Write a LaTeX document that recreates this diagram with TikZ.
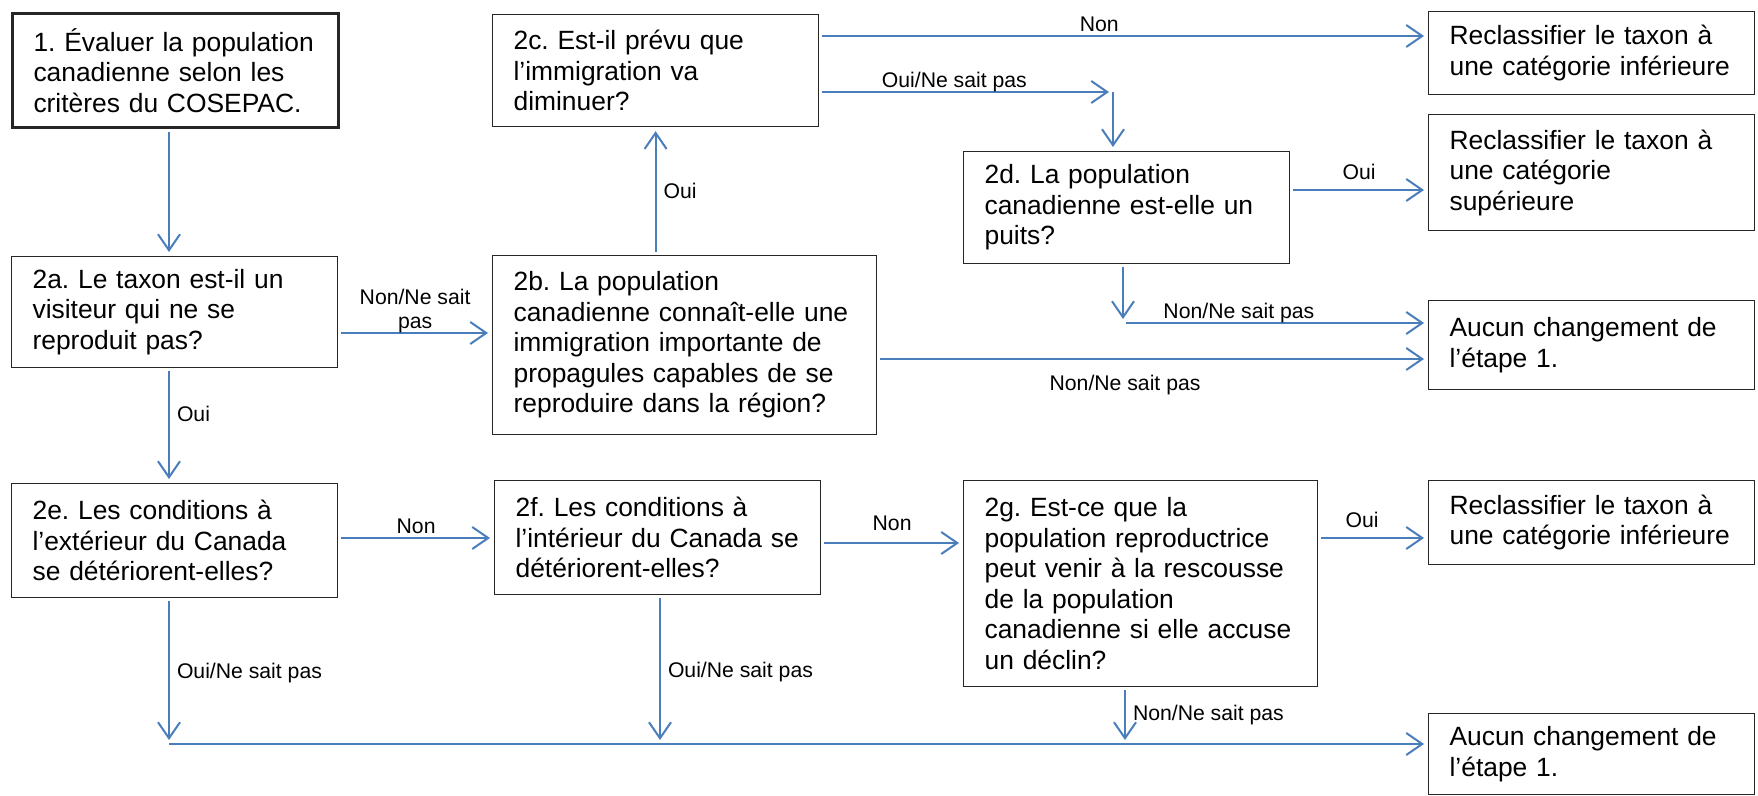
\documentclass[tikz,border=0pt]{standalone}
\usepackage{fontspec}
\setmainfont{Liberation Sans}
\usepackage{tikz}
\usetikzlibrary{positioning,arrows.meta}
\definecolor{flowblue}{RGB}{74,126,187}
\frenchspacing
\hyphenpenalty=10000
\exhyphenpenalty=10000
\tikzset{
qbox/.style = {draw=black!85, line width=0.6pt, anchor=north west, align=left,
  inner xsep=10.5pt, inner ysep=0pt, font=\fontsize{13.2pt}{15.25pt}\selectfont, text width=#1},
qbox/.default = 142pt, % 326px wide boxes
flow/.style = {draw=flowblue, line width=1pt, shorten <=1.5pt, shorten >=2pt,
  -{Straight Barb[length=8pt,width=11pt]}},
lbl/.style = {font=\fontsize{10.6pt}{12.2pt}\selectfont, inner sep=1.5pt, text depth=0pt}
}

\begin{document}
\begin{tikzpicture}[x=0.5pt,y=-0.5pt]
  \useasboundingbox (0,0) rectangle (1758,796);
  % questions
  \node [qbox, line width=1.5pt, minimum height=57pt] (n1) at (11,12)
    {1. Évaluer la population\\canadienne selon les\\critères du COSEPAC.};
  \node [qbox, minimum height=55.5pt] (n2a) at (11,256)
    {2a. Le taxon est-il un\\visiteur qui ne se\\reproduit pas?};
  \node [qbox=171pt, minimum height=89.5pt] (n2b) at (492,255)
    {2b. La population\\canadienne connaît-elle une\\immigration importante de\\propagules capables de se\\reproduire dans la région?};
  \node [qbox, minimum height=56pt] (n2c) at (492,14)
    {2c. Est-il prévu que\\l’immigration va\\diminuer?};
  \node [qbox, minimum height=56pt] (n2d) at (963,151)
    {2d. La population\\canadienne est-elle un\\puits?};
  \node [qbox, minimum height=57pt] (n2e) at (11,483)
    {2e. Les conditions à\\l’extérieur du Canada\\se détériorent-elles?};
  \node [qbox, minimum height=57pt] (n2f) at (494,480)
    {2f. Les conditions à\\l’intérieur du Canada se\\détériorent-elles?};
  \node [qbox=156pt, minimum height=103pt] (n2g) at (963,480)
    {2g. Est-ce que la\\population reproductrice\\peut venir à la rescousse\\de la population\\canadienne si elle accuse\\un déclin?};
  % outcomes
  \node [qbox, minimum height=41.5pt] (rinf1) at (1428,11)
    {Reclassifier le taxon à\\une catégorie inférieure};
  \node [qbox, minimum height=58pt] (rsup) at (1428,114)
    {Reclassifier le taxon à\\une catégorie\\supérieure};
  \node [qbox, minimum height=44.5pt] (aucun1) at (1428,300)
    {Aucun changement de\\l’étape 1.};
  \node [qbox, minimum height=42pt] (rinf2) at (1428,480)
    {Reclassifier le taxon à\\une catégorie inférieure};
  \node [qbox, minimum height=40.5pt] (aucun2) at (1428,713)
    {Aucun changement de\\l’étape 1.};

  \coordinate (c1) at (169,0);
  \coordinate (y36) at (0,36);
  \coordinate (y190) at (0,190);
  \coordinate (y333) at (0,333);
  \coordinate (y359) at (0,359);
  \coordinate (y538) at (0,538);
  \coordinate (y543) at (0,543);
  \coordinate (j1) at (1113,92);
  \coordinate (j2) at (1123,323);
  \coordinate (b1) at (169,744);
  \coordinate (b2) at (660,744);
  \coordinate (b3) at (1125,744);

  \draw[flow] (n1.south -| c1) -- (n2a.north -| c1);
  \draw[flow] (n2a.east |- y333) -- node[lbl, above, align=center] {Non/Ne sait\\pas} (n2b.west |- y333);
  \draw[flow] (n2a.south -| c1) -- node[lbl, right, pos=0.4, xshift=2pt] {Oui} (n2e.north -| c1);
  \draw[flow] (n2b.north -| n2c.south) -- node[lbl, right, xshift=2pt] {Oui} (n2c.south);
  \draw[flow] (n2c.east |- y36) -- node[lbl, above, pos=0.46] {Non} (rinf1.west |- y36);
  \draw[flow] (n2c.east |- j1) -- node[lbl, above, pos=0.46] {Oui/Ne sait pas} (j1);
  \draw[flow, shorten <=0pt] (j1) -- (n2d.north -| j1);
  \draw[flow] (n2d.east |- y190) -- node[lbl, above, yshift=3pt] {Oui} (rsup.west |- y190);
  \draw[flow] (n2d.south -| j2) -- (j2);
  \draw[flow] (j2) -- node[lbl, above, pos=0.38] {Non/Ne sait pas} (j2 -| aucun1.west);
  \draw[flow] (n2b.east |- y359) -- node[lbl, below, pos=0.45, yshift=-6pt] {Non/Ne sait pas} (aucun1.west |- y359);
  \draw[flow] (n2e.east |- y538) -- node[lbl, above] {Non} (n2f.west |- y538);
  \draw[flow] (n2f.east |- y543) -- node[lbl, above, yshift=4pt] {Non} (n2g.west |- y543);
  \draw[flow] (n2g.east |- y538) -- node[lbl, above, pos=0.4, yshift=3pt] {Oui} (rinf2.west |- y538);
  \draw[flow] (n2e.south -| b1) -- node[lbl, right, xshift=2pt] {Oui/Ne sait pas} (b1);
  \draw[flow] (n2f.south -| b2) -- node[lbl, right, xshift=2pt] {Oui/Ne sait pas} (b2);
  \draw[flow] (n2g.south -| b3) -- node[lbl, right, pos=0.45, xshift=2pt] {Non/Ne sait pas} (b3);
  \draw[flow, shorten <=0pt] (b1) -- (b1 -| aucun2.west);
\end{tikzpicture}
\end{document}
